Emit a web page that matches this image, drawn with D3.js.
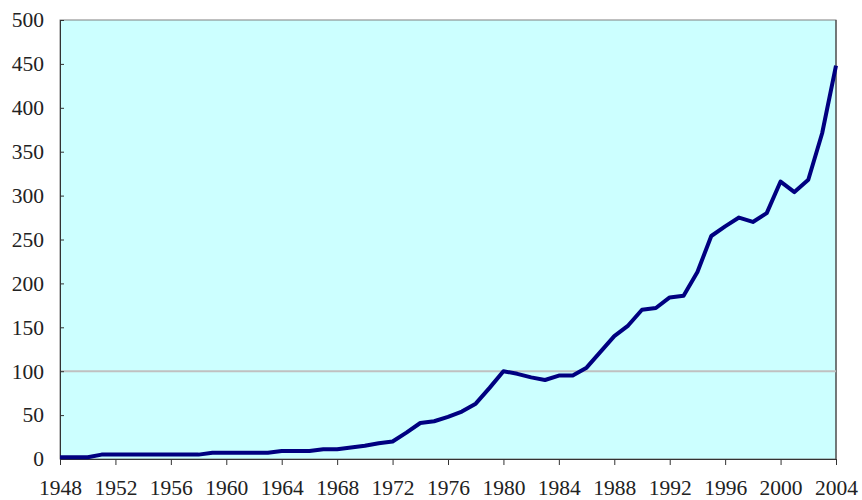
<!DOCTYPE html>
<html>
<head>
<meta charset="utf-8">
<script src="https://cdn.jsdelivr.net/npm/d3@7"></script>
<style>
  body { margin: 0; background: #fff; }
</style>
</head>
<body>
<div id="chart"></div>
<script>
'use strict';

// values
var years = d3.range(1948, 2005);
var values = [
  2, 2, 2, 5, 5, 5, 5, 5, 5, 5, 5,        // 1948-1958
  7, 7, 7, 7, 7,                          // 1959-1963
  9, 9, 9, 11, 11,                        // 1964-1968
  13, 15, 18, 20, 30, 41, 43, 48, 54, 63, // 1969-1978
  81, 100, 97, 93, 90, 95, 95, 104, 122, 140, // 1979-1988
  152, 170, 172, 184, 186, 213, 254, 265, 275, 270, // 1989-1998
  280, 316, 304, 318, 371, 448           // 1999-2004
];
var xTicks = d3.range(1948, 2005, 4);
var yTicks = d3.range(0, 501, 50);
var refLine = [100];

var width = 862, height = 500,
    margin = ({top: 20, right: 26, bottom: 41, left: 60}),
    fontFam = "Liberation Serif, Times New Roman, serif";

var data = years.map((y, i) => ({year: y, value: values[i]}));

var x = d3.scaleLinear()
  .domain([1948, 2004])
  .range([margin.left, width - margin.right]);

var y = d3.scaleLinear()
  .domain([0, 500])
  .range([height - margin.bottom, margin.top]);

var svg = d3.select("#chart").append("svg")
  .attr("width", width)
  .attr("height", height);

// plot area
svg.append("rect")
  .attr("x", x.range()[0])
  .attr("y", y.range()[1])
  .attr("width", x.range()[1] - x.range()[0])
  .attr("height", y.range()[0] - y.range()[1])
  .attr("fill", "#ccffff")
  .attr("stroke", "#808080")
  .attr("stroke-width", 1);

svg.append("line")
  .attr("x1", x.range()[1]).attr("x2", x.range()[1])
  .attr("y1", y.range()[1]).attr("y2", y.range()[0])
  .attr("stroke", "#333");

// reference line at 100
svg.selectAll(".ref")
  .data(refLine)
  .join("line")
    .attr("class", "ref")
    .attr("x1", x.range()[0]).attr("x2", x.range()[1])
    .attr("y1", d => y(d)).attr("y2", d => y(d))
    .attr("stroke", "#c0c0c0")
    .attr("stroke-width", 2);

var xAxis = g => g
  .attr("transform", `translate(0,${y(0)})`)
  .call(d3.axisBottom(x).tickValues(xTicks).tickFormat(d3.format("d")).tickSize(6).tickPadding(15))
  .attr("font-family", fontFam)
  .attr("font-size", 21.5)
  .call(g => g.select(".domain").attr("stroke", "#333"))
  .call(g => g.selectAll(".tick line").attr("stroke", "#333"))
  .call(g => g.selectAll("text").attr("fill", "#222"));

var yAxis = g => g
  .attr("transform", `translate(${x(1948)},0)`)
  .call(d3.axisRight(y).tickValues(yTicks).tickSize(4).tickPadding(0))
  .attr("font-family", fontFam)
  .attr("font-size", 21.5)
  .call(g => g.select(".domain").attr("stroke", "#333"))
  .call(g => g.selectAll(".tick line").attr("stroke", "#333"))
  .call(g => g.selectAll("text")
      .attr("x", -16)
      .attr("text-anchor", "end")
      .attr("fill", "#222"));

svg.append("g").call(xAxis);
svg.append("g").call(yAxis);

var line = d3.line()
  .x(d => x(d.year))
  .y(d => y(d.value));

svg.append("path")
  .datum(data)
  .attr("fill", "none")
  .attr("stroke", "#000080")
  .attr("stroke-width", 4)
  .attr("stroke-linejoin", "round")
  .attr("d", line);
</script>
</body>
</html>
